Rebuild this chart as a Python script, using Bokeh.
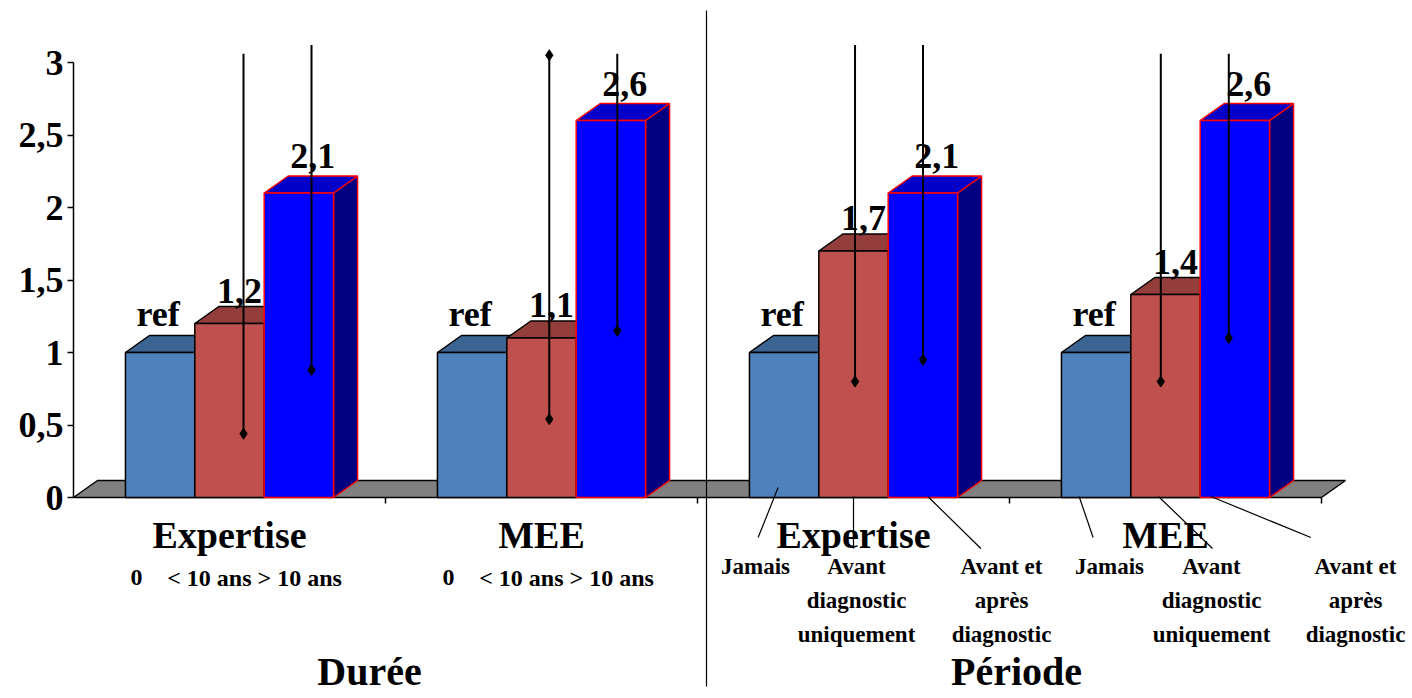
from bokeh.plotting import figure
from bokeh.models import Range1d, LinearAxis, FixedTicker
from bokeh.embed import file_html
from bokeh.resources import INLINE
from bokeh.core.properties import value

# ---------------- data ----------------
sections = ["Durée", "Période"]
groups = ["Expertise", "MEE", "Expertise", "MEE"]
ref_vals = [1.0, 1.0, 1.0, 1.0]
mid_vals = [1.2, 1.1, 1.7, 1.4]
high_vals = [2.1, 2.6, 2.1, 2.6]
mid_lo = [0.44, 0.54, 0.80, 0.80]
mid_hi = [3.06, 3.05, 3.12, 3.06]
mid_hi_marked = [False, True, False, False]
high_lo = [0.88, 1.15, 0.95, 1.10]
high_hi = [3.12, 3.06, 3.12, 3.06]
ref_label = "ref"
duree_sub = ["0", "< 10 ans > 10 ans"]
periode_sub = [["Jamais"], ["Avant", "diagnostic", "uniquement"], ["Avant et", "après", "diagnostic"]]
y_ticks = [0, 0.5, 1, 1.5, 2, 2.5, 3]
y_tick_labels = ["0", "0,5", "1", "1,5", "2", "2,5", "3"]

# ---------------- geometry / style ----------------
W, H = 1412, 698
FL = 73                 # frame left (px)
PXX = 312.0             # px per category
PXY = 145.0             # px per value unit
Y0 = 497                # canvas y of value 0
GROUP_W = 0.667
BAR_W = GROUP_W / 3
DX = 24 / PXX
DY = 17 / PXY
FONT = value("Liberation Serif")
BIG_SHIFT = 13 / PXY     # baseline correction for large texts
SMALL_SHIFT = 8 / PXY    # baseline correction for small texts

front_cols = ["#4F81BD", "#C0504D", "#0000FF"]
top_cols = ["#3C6492", "#943E3C", "#0000C8"]
side_cols = ["#34557D", "#8B3533", "#000080"]
edge_cols = ["black", "black", "#FF0000"]

p = figure(width=W, height=H, output_backend="svg", toolbar_location=None,
           x_range=Range1d(0, (W - FL) / PXX),
           y_range=Range1d(-(H - Y0) / PXY, Y0 / PXY),
           x_axis_type=None, y_axis_type=None,
           min_border_left=FL, min_border_right=0, min_border_top=0, min_border_bottom=0)
p.outline_line_color = None
p.grid.visible = False
p.background_fill_color = "white"
p.border_fill_color = "white"

yax = LinearAxis(ticker=FixedTicker(ticks=y_ticks), bounds=(0, 3),
                 major_label_overrides={t: l for t, l in zip(y_ticks, y_tick_labels)})
yax.axis_line_color = "black"
yax.axis_line_width = 1.5
yax.major_tick_line_color = "black"
yax.major_tick_line_width = 1.5
yax.major_tick_in = 0
yax.major_tick_out = 6
yax.minor_tick_line_color = None
yax.major_label_standoff = 4
yax.major_label_text_font = "Liberation Serif"
yax.major_label_text_font_style = "bold"
yax.major_label_text_font_size = "36px"
yax.major_label_text_color = "black"
p.add_layout(yax, "left")

n = len(groups)

# floor
p.patch([0, n, n + DX, DX], [0, 0, DY, DY], fill_color="#808080", line_color="black", line_width=1.5)
# category ticks below floor
p.segment(x0=list(range(1, n + 1)), y0=[0] * n, x1=list(range(1, n + 1)), y1=[-6 / PXY] * n,
          line_color="black", line_width=1.5)

series = [ref_vals, mid_vals, high_vals]
bar_x = [[i + (1 - GROUP_W) / 2 + k * BAR_W for i in range(n)] for k in range(3)]

for k, vals in enumerate(series):
    xs_top, ys_top, xs_side, ys_side = [], [], [], []
    lefts, rights = [], []
    for i, v in enumerate(vals):
        x0 = bar_x[k][i]
        x1 = x0 + BAR_W
        lefts.append(x0)
        rights.append(x1)
        xs_side.append([x1, x1 + DX, x1 + DX, x1])
        ys_side.append([0, DY, v + DY, v])
        xs_top.append([x0, x1, x1 + DX, x0 + DX])
        ys_top.append([v, v, v + DY, v + DY])
    p.patches(xs_side, ys_side, fill_color=side_cols[k], line_color=edge_cols[k], line_width=1.5)
    p.patches(xs_top, ys_top, fill_color=top_cols[k], line_color=edge_cols[k], line_width=1.5)
    p.quad(left=lefts, right=rights, bottom=[0] * n, top=vals,
           fill_color=front_cols[k], line_color=edge_cols[k], line_width=1.5)

# error bars (confidence intervals)
def err_x(xc):
    return xc + (17.14 - 6.24 * xc) / PXX

for k, lo, hi in [(1, mid_lo, mid_hi), (2, high_lo, high_hi)]:
    xs = [err_x(bar_x[k][i] + BAR_W / 2) for i in range(n)]
    p.segment(x0=xs, y0=lo, x1=xs, y1=hi, line_color="black", line_width=2)
    p.scatter(xs, lo, marker="diamond", size=11, color="black")
    if k == 1:
        mx = [x for x, m in zip(xs, mid_hi_marked) if m]
        my = [h for h, m in zip(hi, mid_hi_marked) if m]
        p.scatter(mx, my, marker="diamond", size=11, color="black")

# value labels
label_dx = [-2, 10, 14]
label_gap = [9, 3, 7]
for k, vals in enumerate(series):
    texts = [ref_label if k == 0 else f"{v:.1f}".replace(".", ",") for v in vals]
    xs = [bar_x[k][i] + BAR_W / 2 + label_dx[k] / PXX for i in range(n)]
    ys = [v + DY + label_gap[k] / PXY + BIG_SHIFT for v in vals]
    p.text(xs, ys, text=texts, text_font=FONT, text_font_style="bold", text_font_size="36px",
           text_align="center", text_baseline="alphabetic", text_color="black")

# group labels
p.text([i + 0.5 for i in range(n)], [-50 / PXY + BIG_SHIFT] * n, text=groups, text_font=FONT,
       text_font_style="bold", text_font_size="38px", text_align="center",
       text_baseline="alphabetic", text_color="black")

# Durée sub labels
dur_pos = [63, 181]
sx, sy, st = [], [], []
for i in range(2):
    for j, t in enumerate(duree_sub):
        sx.append(i + dur_pos[j] / PXX)
        sy.append(-88 / PXY + SMALL_SHIFT)
        st.append(t)
p.text(sx, sy, text=st, text_font=FONT, text_font_style="bold", text_font_size="24px",
       text_align="center", text_baseline="alphabetic", text_color="black")

# Période sub labels
per_pos = [[58, 159, 304], [100, 202, 346]]
px_, py_, pt_ = [], [], []
for gi, i in enumerate([2, 3]):
    for j, lines in enumerate(periode_sub):
        for li, t in enumerate(lines):
            px_.append(i + per_pos[gi][j] / PXX)
            py_.append(-(77 + 34 * li) / PXY + SMALL_SHIFT)
            pt_.append(t)
p.text(px_, py_, text=pt_, text_font=FONT, text_font_style="bold", text_font_size="23px",
       text_align="center", text_baseline="alphabetic", text_color="black")

# leader lines (bar -> Période labels), offsets in px relative to bar centres at value 0
leaders = {2: [(-6, 10, -26, -40), (0, 1, 0, -51), (5, 1, 58, -51)],
           3: [(-17, 1, -3, -40), (-7, 1, 47, -51), (-24, 1, 76, -40)]}
lx0, ly0, lx1, ly1 = [], [], [], []
for i, segs in leaders.items():
    for k, (a, b, c, d) in enumerate(segs):
        xc = bar_x[k][i] + BAR_W / 2
        lx0.append(xc + a / PXX); ly0.append(b / PXY)
        lx1.append(xc + c / PXX); ly1.append(d / PXY)
p.segment(x0=lx0, y0=ly0, x1=lx1, y1=ly1, line_color="black", line_width=1.2)

# section separator
p.segment(x0=[2 + 9 / PXX], y0=[487 / PXY], x1=[2 + 9 / PXX], y1=[-189 / PXY],
          line_color="black", line_width=1.2)

# section titles
p.text([(369 - 73) / PXX, (1016 - 73) / PXX], [-187 / PXY + BIG_SHIFT] * 2, text=sections,
       text_font=FONT, text_font_style="bold", text_font_size="40px", text_align="center",
       text_baseline="alphabetic", text_color="black")

open("out.html", "w").write(file_html(p, INLINE))
